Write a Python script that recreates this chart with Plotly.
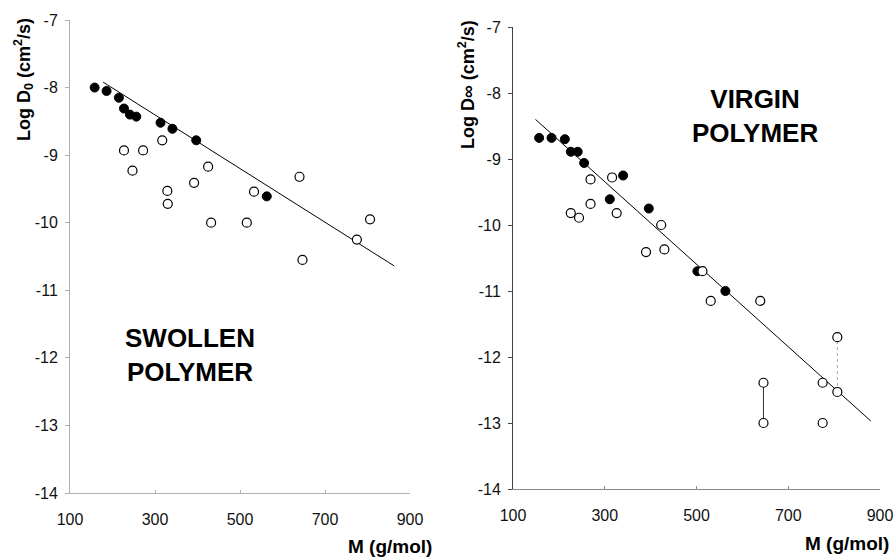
import plotly.graph_objects as go

# Swollen polymer: log D0 versus molar mass
swollen_filled_M = [158, 186, 215, 227, 241, 256, 313, 341, 397, 563]
swollen_filled_logD = [-8.00, -8.05, -8.15, -8.31, -8.40, -8.43, -8.52, -8.61, -8.78, -9.61]
swollen_open_M = [227, 247, 272, 317, 329, 330, 392, 425, 432, 516, 533, 640, 647, 775, 806]
swollen_open_logD = [-8.93, -9.23, -8.93, -8.78, -9.53, -9.72, -9.41, -9.17, -10.00, -10.00,
                     -9.54, -9.32, -10.55, -10.25, -9.95]
swollen_fit_M = [178, 863]
swollen_fit_logD = [-7.92, -10.64]

# Virgin polymer: log D-infinity versus molar mass
virgin_filled_M = [157, 184, 213, 226, 241, 255, 311, 340, 396, 502, 563]
virgin_filled_logD = [-8.68, -8.68, -8.70, -8.89, -8.89, -9.06, -9.61, -9.25, -9.75, -10.70, -11.00]
virgin_open_M = [226, 244, 269, 269, 316, 326, 390, 423, 430, 513, 531, 639,
                 646, 646, 775, 775, 807, 807]
virgin_open_logD = [-9.82, -9.89, -9.31, -9.68, -9.28, -9.82, -10.41, -10.00, -10.37, -10.70,
                    -11.15, -11.15, -12.39, -13.00, -12.39, -13.00, -11.70, -12.53]
virgin_fit_M = [149, 880]
virgin_fit_logD = [-8.40, -12.97]

# Ranges drawn as vertical connectors (M, low, high)
range_solid = (646, -13.00, -12.39)
range_dotted = (807, -12.53, -11.70)

x_ticks = [100, 300, 500, 700, 900]
x_labels = ["100", "300", "500", "700", "900"]
y_ticks = [-7, -8, -9, -10, -11, -12, -13, -14]
y_labels = ["-7", "-8", "-9", "-10", "-11", "-12", "-13", "-14"]

FONT = "Liberation Sans, Arial, sans-serif"

fig = go.Figure()

filled_marker = dict(symbol="circle", size=9, color="black", line=dict(color="black", width=1))
open_marker = dict(symbol="circle", size=9, color="white", line=dict(color="black", width=1.2))

# left panel
fig.add_trace(go.Scatter(x=swollen_fit_M, y=swollen_fit_logD, mode="lines",
                         line=dict(color="black", width=1), xaxis="x", yaxis="y"))
fig.add_trace(go.Scatter(x=swollen_open_M, y=swollen_open_logD, mode="markers",
                         marker=open_marker, xaxis="x", yaxis="y"))
fig.add_trace(go.Scatter(x=swollen_filled_M, y=swollen_filled_logD, mode="markers",
                         marker=filled_marker, xaxis="x", yaxis="y"))

# right panel
fig.add_trace(go.Scatter(x=[range_solid[0]] * 2, y=[range_solid[1], range_solid[2]], mode="lines",
                         line=dict(color="#333", width=1), xaxis="x2", yaxis="y2"))
fig.add_trace(go.Scatter(x=[range_dotted[0]] * 2, y=[range_dotted[1], range_dotted[2]], mode="lines",
                         line=dict(color="#aaa", width=1, dash="dot"), xaxis="x2", yaxis="y2"))
fig.add_trace(go.Scatter(x=virgin_fit_M, y=virgin_fit_logD, mode="lines",
                         line=dict(color="black", width=1), xaxis="x2", yaxis="y2"))
fig.add_trace(go.Scatter(x=virgin_filled_M, y=virgin_filled_logD, mode="markers",
                         marker=filled_marker, xaxis="x2", yaxis="y2"))
fig.add_trace(go.Scatter(x=virgin_open_M, y=virgin_open_logD, mode="markers",
                         marker=open_marker, xaxis="x2", yaxis="y2"))

W, H = 895, 559


def xd(a, b):
    return [a / W, b / W]


def yd(top, bottom):
    return [1 - bottom / H, 1 - top / H]


tickfont = dict(family=FONT, size=16, color="#111")

common_x = dict(range=[100, 900], tickvals=x_ticks, ticktext=x_labels, showgrid=False,
                zeroline=False, showline=True, ticks="inside", ticklen=3, tickfont=tickfont,
                ticklabelstandoff=12, automargin=False)
common_y = dict(range=[-14, -7], tickvals=y_ticks, ticktext=y_labels, showgrid=False,
                zeroline=False, showline=True, ticks="outside", ticklen=4, tickfont=tickfont,
                ticklabelstandoff=4, automargin=False)

fig.update_layout(
    width=W, height=H,
    margin=dict(l=0, r=0, t=0, b=0, autoexpand=False),
    paper_bgcolor="white", plot_bgcolor="white",
    showlegend=False,
    xaxis=dict(domain=xd(70, 410), anchor="y", linecolor="#b0b0b0", tickcolor="#b0b0b0",
               **common_x),
    yaxis=dict(domain=yd(20, 493), anchor="x", linecolor="#b0b0b0", tickcolor="#b0b0b0",
               **common_y),
    xaxis2=dict(domain=xd(513, 880), anchor="y2", linecolor="#8a8a8a", tickcolor="#8a8a8a",
                **common_x),
    yaxis2=dict(domain=yd(27, 489), anchor="x2", linecolor="#444", tickcolor="#444",
                **common_y),
)

title_font = dict(family=FONT, size=18, color="black")
xtitle_font = dict(family=FONT, size=19, color="black")
label_font = dict(family=FONT, size=26, color="black")

annotations = [
    dict(text="<b>Log D<sub>0</sub> (cm<sup>2</sup>/s)</b>", x=23 / W, y=1 - 80 / H,
         xref="paper", yref="paper", xanchor="center", yanchor="middle",
         textangle=-90, showarrow=False, font=title_font),
    dict(text="<b>Log D∞ (cm<sup>2</sup>/s)</b>", x=466 / W, y=1 - 85 / H,
         xref="paper", yref="paper", xanchor="center", yanchor="middle",
         textangle=-90, showarrow=False, font=title_font),
    dict(text="<b>M (g/mol)</b>", x=434 / W, y=1 - 546 / H, xref="paper", yref="paper",
         xanchor="right", yanchor="middle", showarrow=False, font=xtitle_font),
    dict(text="<b>M (g/mol)</b>", x=891 / W, y=1 - 543 / H, xref="paper", yref="paper",
         xanchor="right", yanchor="middle", showarrow=False, font=xtitle_font),
    dict(text="<b>SWOLLEN<br>POLYMER</b>", x=190 / W, y=1 - 355 / H, xref="paper",
         yref="paper", xanchor="center", yanchor="middle", showarrow=False,
         align="center", font=label_font),
    dict(text="<b>VIRGIN<br>POLYMER</b>", x=755 / W, y=1 - 116 / H, xref="paper",
         yref="paper", xanchor="center", yanchor="middle", showarrow=False,
         align="center", font=label_font),
]
fig.update_layout(annotations=annotations)

fig.write_html("out.html")
